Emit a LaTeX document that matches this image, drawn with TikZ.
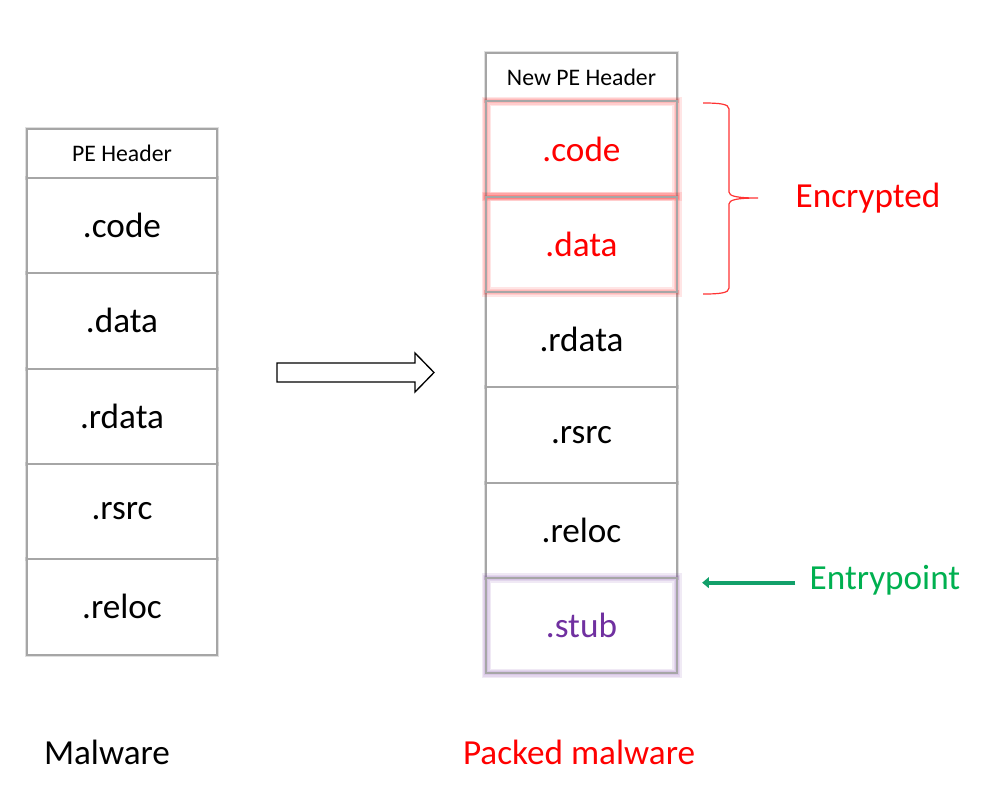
\documentclass[tikz,border=0pt]{standalone}
\usepackage{fontspec}
\setmainfont{Carlito}
\usetikzlibrary{positioning, backgrounds, arrows.meta}
\definecolor{boxgray}{HTML}{A6A6A6}
\definecolor{encred}{HTML}{FF0000}
\definecolor{stubpurple}{HTML}{7030A0}
\definecolor{entrygreen}{HTML}{00B050}
\definecolor{arrowgreen}{HTML}{12A06A}

\begin{document}
\begin{tikzpicture}[x=0.75pt, y=-0.75pt,
	sect/.style={draw=boxgray, line width=1.5pt, fill=white, outer sep=0pt, inner sep=0pt,
		minimum width=143pt, minimum height=71.5pt, font=\fontsize{26.4}{30}\selectfont},
	hdr/.style={sect, minimum height=36.5pt, font=\fontsize{17.8}{20}\selectfont},
	big/.style={inner sep=0pt, font=\fontsize{26.4}{30}\selectfont}]
	\useasboundingbox (0,0) rectangle (988,801);

	% original file
	\begin{scope}
		\node[hdr] (hA) at (122,153.5) {PE Header};
		\node[sect, below=0pt of hA] (codeA) {.code};
		\node[sect, below=0pt of codeA] (dataA) {.data};
		\node[sect, below=0pt of dataA] (rdataA) {.rdata};
		\node[sect, below=0pt of rdataA] (rsrcA) {.rsrc};
		\node[sect, below=0pt of rsrcA] (relocA) {.reloc};
	\end{scope}

	% packed file
	\begin{scope}
		\node[hdr] (hB) at (581.5,77) {New PE Header};
		\node[sect, below=0pt of hB, text=encred] (codeB) {.code};
		\node[sect, below=0pt of codeB, text=encred] (dataB) {.data};
		\node[sect, below=0pt of dataB] (rdataB) {.rdata};
		\node[sect, below=0pt of rdataB] (rsrcB) {.rsrc};
		\node[sect, below=0pt of rsrcB] (relocB) {.reloc};
		\node[sect, below=0pt of relocB, text=stubpurple] (stubB) {.stub};
	\end{scope}

	% shadows and glow
	\begin{scope}[on background layer]
		\foreach \b in {hA, codeA, dataA, rdataA, rsrcA, relocA, hB, rdataB, rsrcB, relocB}
			\draw[gray, line width=3pt, opacity=0.25] (\b.north west) rectangle (\b.south east);
	\end{scope}
	\foreach \b/\c in {codeB/encred, dataB/encred, stubB/stubpurple} {
		\foreach \w in {7,5,3}
			\draw[\c, line width=\w pt, opacity=0.1] (\b.north west) rectangle (\b.south east);
		\draw[boxgray, line width=1.5pt] (\b.north west) rectangle (\b.south east);
	}

	% block arrow
	\draw[line width=1pt] (277,363) -- (415,363) -- (415,353) -- (434,372.5)
		-- (415,392) -- (415,382) -- (277,382) -- cycle;

	% brace
	\draw[encred, line width=0.9pt, opacity=0.8] (703,103) .. controls (720,103) and (729,104) .. (729,109)
		-- (729,192) .. controls (729,196) and (736,198) .. (758,198)
		.. controls (736,198) and (729,200) .. (729,204)
		-- (729,288) .. controls (729,293) and (720,294) .. (703,294);

	% labels
	\node[big, text=encred] (enc) at (868,198) {Encrypted};
	\node[big, text=entrygreen] (entry) at (885,580) {Entrypoint};
	\node[big] (malA) at (107,752) {Malware};
	\node[big, text=encred] (malB) at (579,752) {Packed malware};

	\draw[arrowgreen, line width=3pt, -{Triangle[length=5pt, width=8pt]}, shorten <=10.5pt, shorten >=19pt]
		([yshift=-2pt]entry.west) -- ([yshift=-2pt]entry.west -| stubB.east);
\end{tikzpicture}
\end{document}
